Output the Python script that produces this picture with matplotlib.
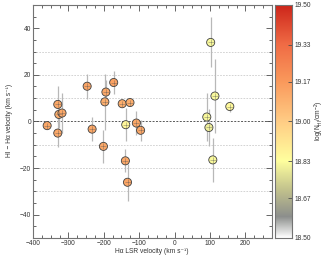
import numpy as np
import matplotlib
matplotlib.use('Agg')
import matplotlib.pyplot as plt
from matplotlib.colors import LinearSegmentedColormap, Normalize
from matplotlib.ticker import MultipleLocator

plt.rcParams['font.family'] = ['Liberation Sans', 'DejaVu Sans']
plt.rcParams['mathtext.fontset'] = 'custom'
plt.rcParams['mathtext.rm'] = 'Liberation Sans'

# H-alpha LSR velocity, HI - H-alpha velocity, error, log N_HI
v_ha = [-360, -330, -327, -318, -330, -247, -233, -194, -197, -201, -172,
        -148, -126, -138, -108, -96, -139, -133,
        102, 114, 156, 91, 97, 108]
dv = [-1.8, 7.3, 3.0, 3.6, -5.0, 15.1, -3.3, 12.6, 8.4, -10.7, 16.7,
      7.6, 8.1, -1.4, -0.7, -3.8, -16.9, -26.1,
      33.9, 10.9, 6.4, 1.9, -2.6, -16.5]
dv_err = [0.5, 8.0, 6.0, 8.5, 6.0, 5.3, 5.0, 5.0, 12.0, 7.0, 5.0,
          0.5, 0.5, 7.0, 5.0, 4.5, 5.0, 8.0,
          10.7, 16.0, 2.5, 10.5, 8.0, 9.6]
log_nhi = [19.12, 19.12, 19.1, 19.12, 19.12, 19.13, 19.12, 19.12, 19.1, 19.12, 19.14,
           19.1, 19.1, 18.86, 19.12, 19.12, 19.12, 19.13,
           18.82, 18.82, 18.85, 18.82, 18.8, 18.82]

cbar_ticks = [18.50, 18.67, 18.83, 19.00, 19.17, 19.33, 19.50]

cmap = LinearSegmentedColormap.from_list('nhi', [
    (0.0, (1.0, 1.0, 1.0)),
    (0.09, (0.55, 0.56, 0.55)),
    (0.2, (0.75, 0.75, 0.55)),
    (0.33, (1.0, 1.0, 0.62)),
    (0.5, (1.0, 0.80, 0.52)),
    (0.67, (0.98, 0.60, 0.36)),
    (0.83, (0.94, 0.42, 0.27)),
    (1.0, (0.80, 0.14, 0.10)),
])
norm = Normalize(18.5, 19.5)
fs = 4.8

fig = plt.figure(figsize=(3.3, 2.57), dpi=100)
ax = fig.add_axes([0.1, 0.074, 0.724, 0.907])
cax = fig.add_axes([0.834, 0.074, 0.051, 0.907])

for y in [-30, -20, -10, 10, 20, 30]:
    ax.axhline(y, color='0.8', lw=0.6, ls=(0, (2, 1.5)), zorder=0)
ax.axhline(0, color='0.35', lw=0.7, ls=(0, (2, 1.5)), zorder=0)

ax.errorbar(v_ha, dv, yerr=dv_err, fmt='none', ecolor='0.72', elinewidth=0.9, zorder=1)
ax.scatter(v_ha, dv, c=log_nhi, cmap=cmap, norm=norm, s=34,
           edgecolors='0.25', linewidths=0.6, zorder=3)
ax.scatter(v_ha, dv, marker='+', s=18, c='0.3', linewidths=0.4, alpha=0.6, zorder=4)

ax.set_xlim(-400, 275)
ax.set_ylim(-50, 50)
ax.xaxis.set_major_locator(MultipleLocator(100))
ax.xaxis.set_minor_locator(MultipleLocator(25))
ax.yaxis.set_major_locator(MultipleLocator(20))
ax.yaxis.set_minor_locator(MultipleLocator(5))
ax.tick_params(which='both', direction='in', top=True, right=True,
               labelsize=fs, colors='0.3', labelcolor='0.2', width=0.6, pad=1.5)
ax.tick_params(which='major', length=4)
ax.tick_params(which='minor', length=2)
for s in ax.spines.values():
    s.set_color('0.45')
    s.set_linewidth(0.8)
fig.text(0.46, 0.022, 'H\u03b1 LSR velocity (km s\u207b\u00b9)', fontsize=fs, color='0.2',
         ha='center', va='center')
fig.text(0.028, 0.53, 'HI \u2212 H\u03b1 velocity (km s\u207b\u00b9)', fontsize=fs, color='0.2',
         ha='center', va='center', rotation=90)

grad = np.linspace(18.5, 19.5, 256).reshape(-1, 1)
cax.imshow(grad, aspect='auto', origin='lower', cmap=cmap, norm=norm,
           extent=[0, 1, 18.5, 19.5])
cax.set_xticks([])
cax.yaxis.tick_right()
cax.set_yticks(cbar_ticks)
cax.set_yticklabels(['%.2f' % t for t in cbar_ticks])
cax.tick_params(direction='in', length=3, labelsize=fs, colors='0.3', labelcolor='0.2', width=0.6, pad=1.5)
for s in cax.spines.values():
    s.set_color('0.45')
    s.set_linewidth(0.8)
fig.text(0.967, 0.53, 'log(N$_{\\rm HI}$/cm$^{-2}$)', fontsize=fs, color='0.2',
         ha='center', va='center', rotation=90)

fig.savefig('out.png', dpi=100)
